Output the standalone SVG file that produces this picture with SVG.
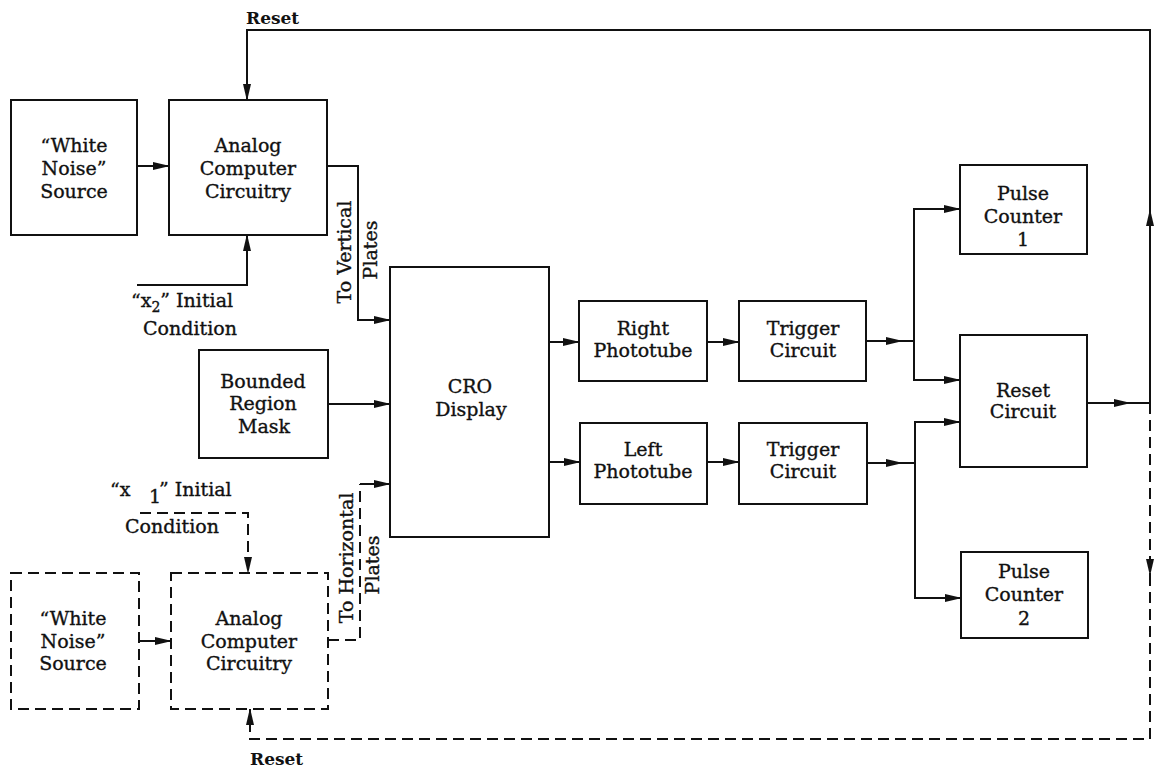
<svg xmlns="http://www.w3.org/2000/svg" width="1155" height="769" viewBox="0 0 1155 769">
<style>
  .box{fill:#fff;stroke:#111;stroke-width:2}
  .dbox{fill:#fff;stroke:#111;stroke-width:2;stroke-dasharray:11 6}
  .ln{fill:none;stroke:#111;stroke-width:2}
  .dl{fill:none;stroke:#111;stroke-width:2;stroke-dasharray:11 6}
  .a{marker-end:url(#ah)}
  text{font-family:"DejaVu Serif","Liberation Serif",serif;font-size:19px;fill:#111;stroke:#111;stroke-width:0.35;text-anchor:middle}
  .lab{text-anchor:start}
  .rs{font-weight:bold;font-size:17px;text-anchor:start;stroke-width:0}
</style>
<defs>
  <marker id="ah" markerWidth="17" markerHeight="10" refX="16" refY="5" orient="auto" markerUnits="userSpaceOnUse">
    <path d="M0,1 L17,5 L0,9 Z" fill="#111"/>
  </marker>
</defs>
<rect width="1155" height="769" fill="#fff"/>

<g id="connectors">
  <path class="ln a" d="M137,166 H169"/>
  <path class="ln a" d="M137,285 H247 V235"/>
  <path class="ln a" d="M1087,403 H1130"/>
  <path class="ln" d="M1130,403 H1150"/>
  <path class="ln a" d="M1150,403 V210"/>
  <path class="ln a" d="M1150,210 V30 H247 V100"/>
  <path class="ln a" d="M327,166 H358 V320 H390"/>
  <path class="ln a" d="M328,404 H390"/>
  <path class="dl" d="M328,640 H360 V484"/>
  <path class="ln a" d="M360,484 H390"/>
  <path class="ln a" d="M549,342 H579"/>
  <path class="ln a" d="M549,462 H580"/>
  <path class="ln a" d="M707,342 H739"/>
  <path class="ln a" d="M707,462 H739"/>
  <path class="ln a" d="M866,341 H902"/>
  <path class="ln" d="M902,341 H914"/>
  <path class="ln a" d="M914,341 V209 H960"/>
  <path class="ln a" d="M914,341 V380 H960"/>
  <path class="ln a" d="M867,463 H902"/>
  <path class="ln" d="M902,463 H915"/>
  <path class="ln a" d="M915,463 V422 H960"/>
  <path class="ln a" d="M915,463 V598 H961"/>
  <path class="dl a" d="M1150,403 V575"/>
  <path class="dl a" d="M1150,575 V739 H250 V709"/>
  <path class="dl a" d="M140,513 H248 V573"/>
  <path class="ln a" d="M139,641 H171"/>
</g>

<g id="wn1"><rect class="box" x="11" y="100" width="126" height="135"/>
  <text x="74" y="152">“White</text><text x="74" y="175">Noise”</text><text x="74" y="198">Source</text></g>
<g id="ac1"><rect class="box" x="169" y="100" width="158" height="135"/>
  <text x="248" y="152">Analog</text><text x="248" y="175">Computer</text><text x="248" y="198">Circuitry</text></g>
<g id="mask"><rect class="box" x="199" y="350" width="129" height="108"/>
  <text x="263" y="388">Bounded</text><text x="263" y="410">Region</text><text x="264" y="433">Mask</text></g>
<g id="cro"><rect class="box" x="390" y="267" width="159" height="270"/>
  <text x="470" y="393">CRO</text><text x="471" y="416">Display</text></g>
<g id="rpt"><rect class="box" x="579" y="301" width="128" height="80"/>
  <text x="643" y="335">Right</text><text x="643" y="357">Phototube</text></g>
<g id="lpt"><rect class="box" x="580" y="423" width="127" height="81"/>
  <text x="643" y="456">Left</text><text x="643" y="478">Phototube</text></g>
<g id="tc1"><rect class="box" x="739" y="301" width="127" height="80"/>
  <text x="803" y="335">Trigger</text><text x="803" y="357">Circuit</text></g>
<g id="tc2"><rect class="box" x="739" y="423" width="128" height="81"/>
  <text x="803" y="456">Trigger</text><text x="803" y="478">Circuit</text></g>
<g id="pc1"><rect class="box" x="960" y="165" width="127" height="89"/>
  <text x="1023" y="200">Pulse</text><text x="1023" y="223">Counter</text><text x="1023" y="246">1</text></g>
<g id="rc"><rect class="box" x="960" y="335" width="127" height="132"/>
  <text x="1023" y="397">Reset</text><text x="1023" y="418">Circuit</text></g>
<g id="pc2"><rect class="box" x="961" y="552" width="127" height="86"/>
  <text x="1024" y="578">Pulse</text><text x="1024" y="601">Counter</text><text x="1024" y="625">2</text></g>
<g id="wn2"><rect class="dbox" x="11" y="573" width="128" height="136"/>
  <text x="73" y="625">“White</text><text x="73" y="648">Noise”</text><text x="73" y="670">Source</text></g>
<g id="ac2"><rect class="dbox" x="171" y="573" width="157" height="136"/>
  <text x="249" y="625">Analog</text><text x="249" y="648">Computer</text><text x="249" y="670">Circuitry</text></g>

<g id="labels">
  <text class="rs" x="246" y="24">Reset</text>
  <text class="rs" x="250" y="765">Reset</text>
  <text class="lab" x="131" y="307">“x<tspan font-size="14" dy="5">2</tspan><tspan dy="-5">” Initial</tspan></text>
  <text x="190" y="335">Condition</text>
  <text class="lab" x="110" y="496">“x</text>
  <text class="lab" x="149" y="503" font-size="14">1</text>
  <text class="lab" x="159" y="496">” Initial</text>
  <text x="172" y="533">Condition</text>
  <text transform="translate(351,252) rotate(-90)">To Vertical</text>
  <text transform="translate(377,250) rotate(-90)">Plates</text>
  <text transform="translate(353,558) rotate(-90)">To Horizontal</text>
  <text transform="translate(379,565) rotate(-90)">Plates</text>
</g>
</svg>
